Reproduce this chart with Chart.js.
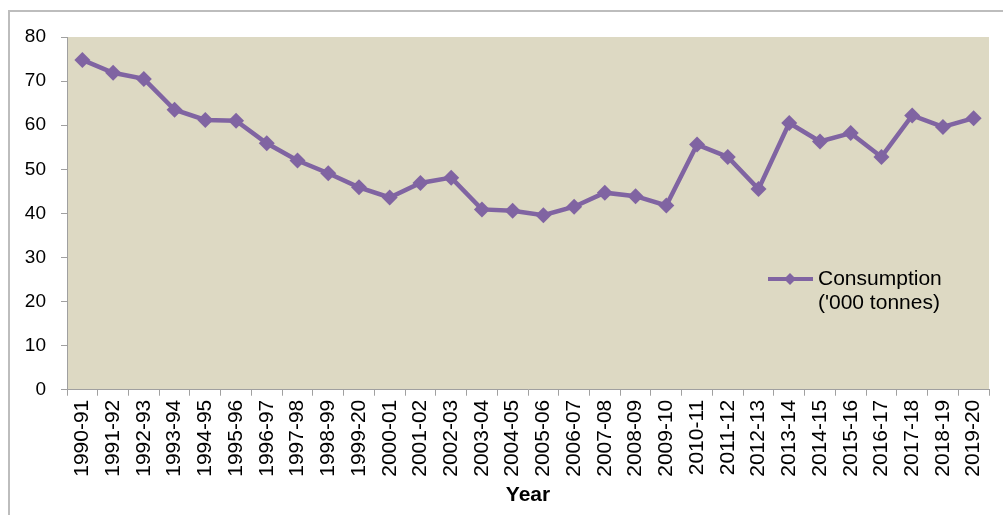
<!DOCTYPE html>
<html>
<head>
<meta charset="utf-8">
<script src="https://cdn.jsdelivr.net/npm/chart.js@4"></script>
<style>
  html, body { margin: 0; padding: 0; background: #fff; }
  #wrap { width: 1003px; height: 515px; position: relative; }
</style>
</head>
<body>
<div id="wrap"><canvas id="chart" width="1003" height="515"></canvas></div>
<script>
const years = ["1990-91", "1991-92", "1992-93", "1993-94", "1994-95", "1995-96", "1996-97",
  "1997-98", "1998-99", "1999-20", "2000-01", "2001-02", "2002-03", "2003-04", "2004-05",
  "2005-06", "2006-07", "2007-08", "2008-09", "2009-10", "2010-11", "2011-12", "2012-13",
  "2013-14", "2014-15", "2015-16", "2016-17", "2017-18", "2018-19", "2019-20"];
const consumption = [74.8, 71.9, 70.5, 63.5, 61.2, 61.0, 55.9, 52.0, 49.1, 45.9, 43.6, 46.9,
  48.1, 40.9, 40.6, 39.6, 41.5, 44.7, 43.9, 41.8, 55.6, 52.8, 45.5, 60.5, 56.3, 58.2, 52.8,
  62.2, 59.6, 61.6];
const seriesLabel = ["Consumption", "('000 tonnes)"];
const yTicks = [0, 10, 20, 30, 40, 50, 60, 70, 80];

const purple = "#8064A2";
const axisGray = "#A0A0A0";

// frame + tan plot background
const background = {
  id: "background",
  beforeDraw(chart) {
    const { ctx, chartArea: a } = chart;
    ctx.save();
    ctx.strokeStyle = "#BDBDBD";
    ctx.lineWidth = 2;
    ctx.beginPath();
    ctx.moveTo(9, 515);
    ctx.lineTo(9, 11);
    ctx.lineTo(1003, 11);
    ctx.stroke();
    ctx.fillStyle = "#DDD9C3";
    ctx.fillRect(a.left, a.top, a.right - a.left, a.bottom - a.top);
    ctx.restore();
  }
};

// legend drawn inside the plot area
const insideLegend = {
  id: "insideLegend",
  afterDraw(chart) {
    const { ctx, chartArea: a } = chart;
    const x0 = a.left + 701, y0 = 279;
    ctx.save();
    ctx.strokeStyle = purple;
    ctx.lineWidth = 4;
    ctx.beginPath();
    ctx.moveTo(x0, y0);
    ctx.lineTo(x0 + 45, y0);
    ctx.stroke();
    ctx.fillStyle = purple;
    ctx.beginPath();
    ctx.moveTo(x0 + 22, y0 - 6);
    ctx.lineTo(x0 + 28, y0);
    ctx.lineTo(x0 + 22, y0 + 6);
    ctx.lineTo(x0 + 16, y0);
    ctx.closePath();
    ctx.fill();
    ctx.fillStyle = "#000";
    ctx.font = "21px 'Liberation Sans', Arial, sans-serif";
    ctx.textBaseline = "middle";
    ctx.textAlign = "left";
    seriesLabel.forEach((t, i) => ctx.fillText(t, x0 + 50, y0 + i * 24));
    ctx.restore();
  }
};

new Chart(document.getElementById("chart"), {
  type: "line",
  data: {
    labels: years,
    datasets: [{
      label: seriesLabel.join(" "),
      data: consumption,
      borderColor: purple,
      backgroundColor: purple,
      borderWidth: 4.5,
      pointStyle: "rectRot",
      pointRadius: 8,
      pointHoverRadius: 8,
      pointBorderWidth: 0,
      tension: 0
    }]
  },
  options: {
    responsive: false,
    animation: false,
    layout: { padding: { top: 37, left: 9, right: 9, bottom: 7 } },
    plugins: { legend: { display: false }, tooltip: { enabled: false } },
    scales: {
      x: {
        offset: true,
        grid: { offset: true, drawOnChartArea: false, drawTicks: true, tickLength: 6, color: axisGray },
        border: { display: true, color: axisGray, width: 1 },
        ticks: {
          minRotation: 90, maxRotation: 90, autoSkip: false, padding: 4,
          color: "#000", font: { family: "'Liberation Sans', Arial, sans-serif", size: 21 }
        },
        title: {
          display: true, text: "Year", color: "#000", padding: { top: 2, bottom: 0 },
          font: { family: "'Liberation Sans', Arial, sans-serif", size: 21, weight: "bold" }
        }
      },
      y: {
        min: 0, max: 80,
        afterBuildTicks(scale) { scale.ticks = yTicks.map(v => ({ value: v })); },
        afterFit(scale) { scale.width = 58; },
        grid: { drawOnChartArea: false, drawTicks: true, tickLength: 6, color: axisGray },
        border: { display: true, color: axisGray, width: 1 },
        ticks: {
          padding: 15, color: "#000",
          font: { family: "'Liberation Sans', Arial, sans-serif", size: 19 }
        }
      }
    }
  },
  plugins: [background, insideLegend]
});
</script>
</body>
</html>
